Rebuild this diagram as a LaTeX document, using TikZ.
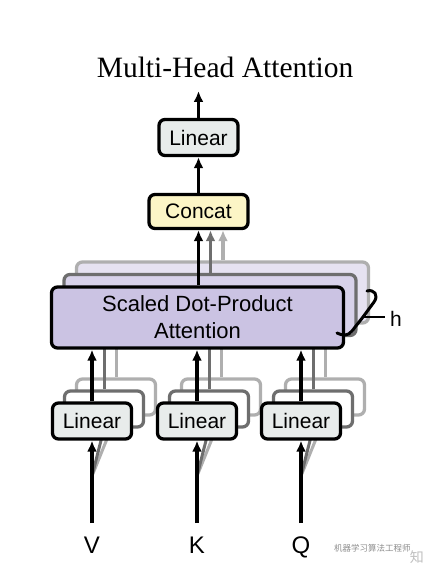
\documentclass[tikz,border=0pt]{standalone}
\usepackage{fontspec}
\setmainfont{Liberation Sans}
\newfontfamily\titlefont{Liberation Serif}
\newfontfamily\cjk{Noto Sans CJK SC}
\usetikzlibrary{arrows.meta}
\definecolor{linfill}{RGB}{232,236,235}
\definecolor{catfill}{RGB}{252,245,198}
\definecolor{attfill}{RGB}{203,195,227}
\definecolor{attfillB}{RGB}{216,210,234}
\definecolor{attfillC}{RGB}{230,226,241}
\definecolor{shadeB}{RGB}{110,110,110}
\definecolor{shadeC}{RGB}{175,175,175}
\begin{document}
\begin{tikzpicture}[x=1pt,y=-1pt,
  box/.style={draw=black, line width=3.3pt, rounded corners=6pt, font=\fontsize{21}{21}\selectfont, inner sep=0pt},
  linbox/.style={box, fill=linfill, minimum width=79pt, minimum height=36pt},
  linboxB/.style={linbox, draw=shadeB, fill=white},
  linboxC/.style={linbox, draw=shadeC, fill=white},
  attbox/.style={box, fill=attfill, minimum width=292pt, minimum height=61pt, align=center, font=\fontsize{22}{27}\selectfont},
  attboxB/.style={attbox, draw=shadeB, fill=attfillB},
  attboxC/.style={attbox, draw=shadeC, fill=attfillC},
  arr/.style={line width=3.3pt, -{Latex[length=11pt,width=10pt]}},
  arrB/.style={arr, draw=shadeB},
  arrC/.style={arr, draw=shadeC},
  lineB/.style={line width=3pt, draw=shadeB},
  lineC/.style={line width=3pt, draw=shadeC},
  lab/.style={font=\fontsize{24}{24}\selectfont, anchor=base}
]
\useasboundingbox (0,0) rectangle (425,569);

% title
\node[anchor=base, font=\titlefont\fontsize{29.5}{30}\selectfont] (title) at (225,78) {Multi-Head Attention};

% input coordinates
\coordinate (vin) at (92,523);
\coordinate (kin) at (197,523);
\coordinate (qin) at (301,523);
\coordinate (vf) at (92,476);
\coordinate (kf) at (197,476);
\coordinate (qf) at (301,476);

% attention shadows
\node[attboxC] (attC) at (222.5,292.5) {\phantom{A}};
\node[attboxB] (attB) at (210,305) {\phantom{A}};

% linear shadows
\foreach \n/\x in {V/92,K/197,Q/301}{
  \node[linboxC] (l\n C) at (\x+24,397) {};
  \node[linboxB] (l\n B) at (\x+12,409) {};
}
% shadow connectors (mostly hidden)
\foreach \n in {V,K,Q}{
  \draw[lineC] (l\n C.north) -- (l\n C.north |- attC.south);
  \draw[lineB] (l\n B.north) -- (l\n B.north |- attB.south);
}
\draw[lineC] (vf) -- (lVC.south);
\draw[lineB] (vf) -- (lVB.south);
\draw[lineC] (kf) -- (lKC.south);
\draw[lineB] (kf) -- (lKB.south);
\draw[lineC] (qf) -- (lQC.south);
\draw[lineB] (qf) -- (lQB.south);

% main linear boxes
\node[linbox] (lV) at (92,421) {Linear};
\node[linbox] (lK) at (197,421) {Linear};
\node[linbox] (lQ) at (301,421) {Linear};

% main attention
\node[attbox] (att) at (197.5,317.5) {Scaled Dot-Product\\Attention};

% concat and top linear
\node[box, fill=catfill, minimum width=99pt, minimum height=34pt] (cat) at (198.5,211.5) {Concat};
\node[linbox] (lT) at (198.5,137.5) {Linear};
\coordinate (out) at (198.5,91);

% gray arrow columns
\coordinate (xB) at (210.5,0);
\coordinate (xC) at (223,0);

% arrows
\draw[arr] (vin) -- (lV.south);
\draw[arr] (kin) -- (lK.south);
\draw[arr] (qin) -- (lQ.south);
\draw[arr] (lV.north) -- (lV.north |- att.south);
\draw[arr] (lK.north) -- (lK.north |- att.south);
\draw[arr] (lQ.north) -- (lQ.north |- att.south);
\draw[arrC] (xC |- attC.north) -- (xC |- cat.south);
\draw[arrB] (xB |- attB.north) -- (xB |- cat.south);
\draw[arr] (cat.south |- att.north) -- (cat.south);
\draw[arr] (cat.north) -- (lT.south);
\draw[arr] (lT.north) -- (out);

% brace and h
\coordinate (btip) at (363,317);
\coordinate (hl) at (385,317);
\draw[line width=3pt, line cap=round, line join=round]
  (367,291) .. controls (374,289) and (379,295) .. (374,302)
  -- (btip) -- (352,331)
  .. controls (348,336) and (343,336) .. (337,333);
\draw[line width=1.4pt] (btip) -- (hl);
\node[anchor=west, font=\fontsize{21}{21}\selectfont, inner sep=0pt] (h) at (390,319) {h};

% input labels
\node[lab] (V) at (92,553) {V};
\node[lab] (K) at (197,553) {K};
\node[lab] (Q) at (301,553) {Q};

% watermark
\node[anchor=west, text=black!45, font=\cjk\fontsize{8.5}{9}\selectfont, inner sep=0pt] (wm) at (334,548) {机器学习算法工程师};
\node[anchor=east, text=black!25, font=\cjk\fontsize{14}{14}\selectfont, inner sep=0pt] (zhi) at (424,557) {知};
\end{tikzpicture}
\end{document}
